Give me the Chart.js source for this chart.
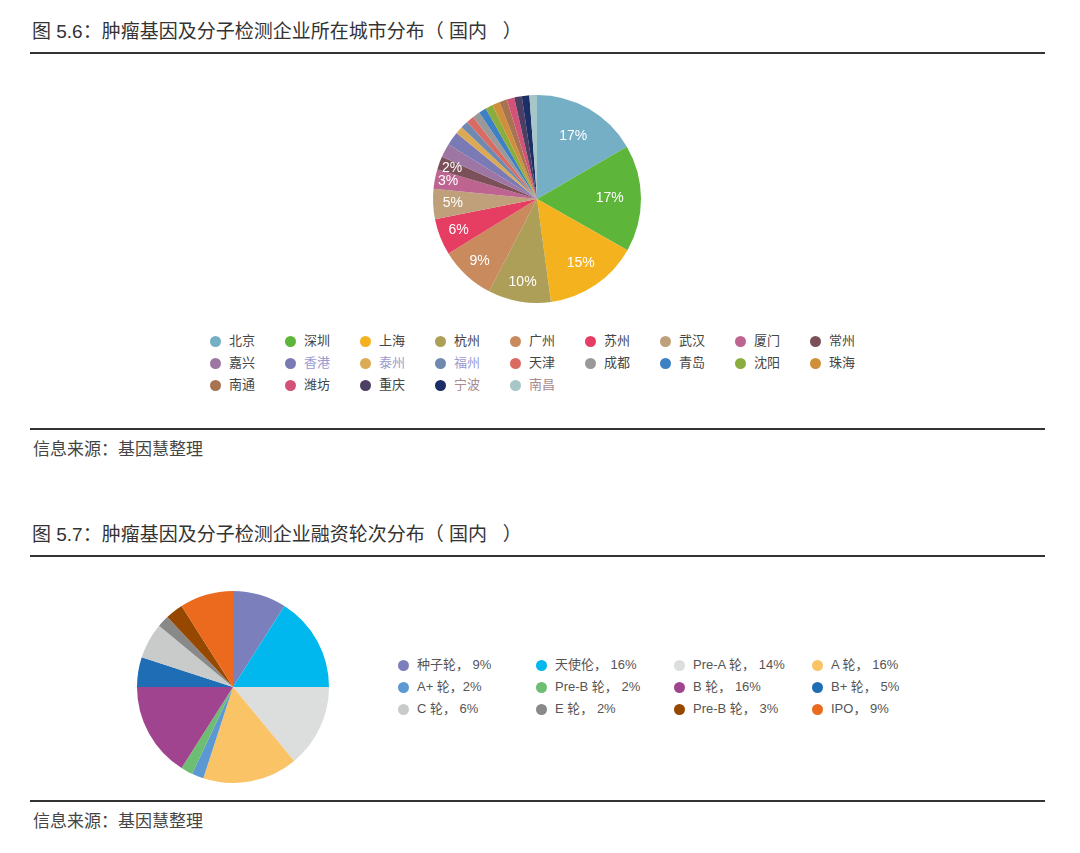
<!DOCTYPE html>
<html>
<head>
<meta charset="utf-8">
<script src="https://cdn.jsdelivr.net/npm/chart.js@4.4.0/dist/chart.umd.min.js"></script>
<style>
  body { margin: 0; background: #fff; font-family: "Liberation Sans", "Noto Sans CJK SC", sans-serif; color: #333; }
  #page { position: relative; width: 1080px; height: 853px; overflow: hidden; }
  .title { position: absolute; left: 32px; font-size: 19px; line-height: 24px; color: #333; white-space: pre; }
  .rule { position: absolute; left: 30px; width: 1015px; background: #333; }
  .source { position: absolute; left: 33px; font-size: 17px; line-height: 20px; color: #444; white-space: pre; }
  canvas { position: absolute; }
  .legend { position: absolute; display: grid; row-gap: 0; font-size: 13px; line-height: 22px; color: #444; }
  .legend div { display: flex; align-items: center; white-space: nowrap; }
  .legend span.dot { display: inline-block; width: 11px; height: 11px; border-radius: 50%; margin-right: 8px; }
</style>
</head>
<body>
<div id="page">
  <div class="title" style="top:20px">图 5.6：肿瘤基因及分子检测企业所在城市分布（ 国内   ）</div>
  <div class="rule" style="top:52px;height:2px"></div>
  <canvas id="cityChart" width="240" height="240" style="left:417px;top:79px"></canvas>
  <div class="legend" id="cityLegend" style="left:210px;top:330px;grid-template-columns:repeat(9,75px)"></div>
  <div class="rule" style="top:428px;height:2px"></div>
  <div class="source" style="top:440px">信息来源：基因慧整理</div>

  <div class="title" style="top:523px">图 5.7：肿瘤基因及分子检测企业融资轮次分布（ 国内   ）</div>
  <div class="rule" style="top:555px;height:2px"></div>
  <canvas id="roundChart" width="200" height="200" style="left:133px;top:587px"></canvas>
  <div class="legend" id="roundLegend" style="left:398px;top:654px;grid-template-columns:repeat(4,138px);color:#555"></div>
  <div class="rule" style="top:800px;height:2px"></div>
  <div class="source" style="top:812px">信息来源：基因慧整理</div>
</div>
<script>
// 图 5.6 城市分布
const cities = ['北京', '深圳', '上海', '杭州', '广州', '苏州', '武汉', '厦门', '常州',
  '嘉兴', '香港', '泰州', '福州', '天津', '成都', '青岛', '沈阳', '珠海',
  '南通', '潍坊', '重庆', '宁波', '南昌']
const cityValues = [17, 17, 15, 10, 8.8, 5.8, 4.8, 3.1, 2.1,
  2.2, 2.2, 1.2, 1.2, 1.2, 1.2, 1.2, 1.2, 1.2,
  1.2, 1.2, 1.2, 1.2, 1.2]
const cityColors = ['#74afc6', '#5db63a', '#f4b31e', '#ad9f58', '#c98a5e', '#e63d63', '#bfa07a', '#bd6590', '#7b5058',
  '#9d76a3', '#7a7ab5', '#dcaa55', '#7089b0', '#d96b63', '#999999', '#3d80c3', '#8aad3e', '#d08f3a',
  '#a87350', '#d35277', '#4c3f63', '#1c2e66', '#a7c6c8']
// legend text colours as they appear in the source
const cityTextColors = ['#444', '#444', '#444', '#444', '#444', '#444', '#444', '#444', '#444',
  '#444', '#9a9ad0', '#9a9ad0', '#9a9ad0', '#444', '#444', '#444', '#444', '#444',
  '#444', '#444', '#444', '#a88a8f', '#a88a8f']
const labelledCities = 9

// 图 5.7 融资轮次
const rounds = ['种子轮', '天使伦', 'Pre-A 轮', 'A 轮', 'A+ 轮', 'Pre-B 轮',
  'B 轮', 'B+ 轮', 'C 轮', 'E 轮', 'Pre-B 轮', 'IPO']
const roundValues = [9, 16, 14, 16, 2, 2, 16, 5, 6, 2, 3, 9]
const roundColors = ['#7b80bd', '#00b7ee', '#dcdddd', '#f9c366', '#5c99d2', '#6dbe72',
  '#a1448f', '#1e6db5', '#c9caca', '#898989', '#964700', '#eb6a1e']

// white percentage text inside the bigger slices
const sliceLabels = {
  id: 'sliceLabels',
  afterDatasetsDraw(chart) {
    const ctx = chart.ctx
    const meta = chart.getDatasetMeta(0)
    const total = cityValues.reduce((a, b) => a + b, 0)
    ctx.save()
    ctx.font = '14px "Liberation Sans", sans-serif'
    ctx.fillStyle = '#fff'
    ctx.textAlign = 'center'
    ctx.textBaseline = 'middle'
    meta.data.forEach((arc, i) => {
      if (i >= labelledCities) return
      const v = cityValues[i]
      const p = arc.getProps(['x', 'y', 'startAngle', 'endAngle', 'outerRadius'], true)
      const mid = (p.startAngle + p.endAngle) / 2
      const k = v >= 16 ? 0.7 : v >= 14 ? 0.75 : v > 3.5 ? 0.81 : 0.87
      ctx.fillText(Math.round(v / total * 100) + '%',
        p.x + Math.cos(mid) * p.outerRadius * k,
        p.y + Math.sin(mid) * p.outerRadius * k)
    })
    ctx.restore()
  }
}

function pieOptions(r) {
  return {
    responsive: false,
    animation: false,
    radius: r,
    layout: { padding: 0 },
    plugins: { legend: { display: false }, tooltip: { enabled: false } }
  }
}

new Chart(document.getElementById('cityChart'), {
  type: 'pie',
  data: {
    labels: cities,
    datasets: [{ data: cityValues, backgroundColor: cityColors, borderWidth: 0 }]
  },
  options: pieOptions(104),
  plugins: [sliceLabels]
})

new Chart(document.getElementById('roundChart'), {
  type: 'pie',
  data: {
    labels: rounds,
    datasets: [{ data: roundValues, backgroundColor: roundColors, borderWidth: 0 }]
  },
  options: pieOptions(96)
})

function buildLegend(el, labels, colors, textColors) {
  labels.forEach((txt, i) => {
    const item = document.createElement('div')
    const dot = document.createElement('span')
    dot.className = 'dot'
    dot.style.background = colors[i]
    const t = document.createElement('span')
    t.textContent = txt
    if (textColors) t.style.color = textColors[i]
    item.appendChild(dot)
    item.appendChild(t)
    el.appendChild(item)
  })
}

buildLegend(document.getElementById('cityLegend'), cities, cityColors, cityTextColors)
const roundTotal = roundValues.reduce((a, b) => a + b, 0)
buildLegend(document.getElementById('roundLegend'),
  rounds.map((r, i) => r + '，' + (i === 4 ? '' : ' ') + Math.round(roundValues[i] / roundTotal * 100) + '%'),
  roundColors)
</script>
</body>
</html>
